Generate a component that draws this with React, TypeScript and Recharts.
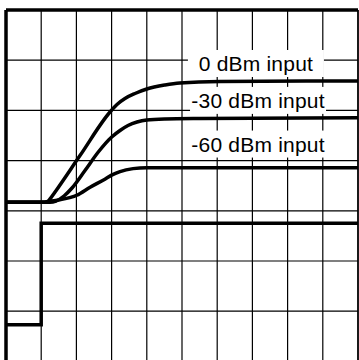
import React from "react";
import {
  LineChart,
  Line,
  XAxis,
  YAxis,
  CartesianGrid,
  ReferenceLine,
  ReferenceDot,
} from "recharts";

// screen divisions: x 0..10 left to right, y 0..7 bottom to top
const xTicks = [0, 1, 2, 3, 4, 5, 6, 7, 8, 9, 10];
const yTicks = [0, 1, 2, 3, 4, 5, 6, 7];

const stepX = [0, 1, 1, 10];
const stepY = [0.73, 0.73, 2.75, 2.75];

const zeroX = [0, 1.08, 1.165, 1.25, 1.364, 2.102, 2.955, 3.153, 3.38, 3.665, 4.0, 4.52, 4.94, 6.08, 10];
const zeroY = [3.17, 3.17, 3.18, 3.235, 3.345, 4.1, 4.968, 5.118, 5.237, 5.337, 5.426, 5.506, 5.546, 5.576, 5.586];

const minus30X = [0, 1.25, 1.42, 1.648, 1.875, 2.244, 2.622, 3.003, 3.239, 3.466, 3.722, 3.997, 4.517, 5.511, 10];
const minus30Y = [3.17, 3.17, 3.195, 3.295, 3.454, 3.803, 4.171, 4.47, 4.6, 4.699, 4.769, 4.809, 4.829, 4.839, 4.855];

const minus60X = [0, 1.08, 1.25, 1.53, 2.01, 2.39, 2.81, 3.0, 3.24, 3.61, 4.0, 10];
const minus60Y = [3.17, 3.17, 3.19, 3.22, 3.31, 3.47, 3.63, 3.71, 3.78, 3.84, 3.86, 3.86];

const labelText = ["0 dBm input", "-30 dBm input", "-60 dBm input"];
const labelX = [7.1, 7.16, 7.16];
const labelY = [5.785, 5.05, 4.18];

const toPoints = (xs: number[], ys: number[]) => xs.map((x, i) => ({ x, y: ys[i] }));

const LabelBox = (text: string) => (props: any) => {
  const { cx, cy } = props;
  return (
    <g>
      <rect x={cx - 68} y={cy - 21} width={136} height={27} fill="#fff" />
      <text
        x={cx}
        y={cy}
        textAnchor="middle"
        fontFamily="'Liberation Sans', Arial, sans-serif"
        fontSize={21}
        letterSpacing={0.2}
        fill="#000"
      >
        {text}
      </text>
    </g>
  );
};

export default function App() {
  return (
    <div
      style={{
        position: "absolute",
        left: 0,
        top: 0,
        width: 359,
        height: 360,
        overflow: "hidden",
        background: "#fff",
      }}
    >
      <LineChart
        width={359}
        height={371}
        margin={{ top: 10, right: 1, left: 6, bottom: 9.6 }}
      >
        <XAxis type="number" dataKey="x" domain={[0, 10]} ticks={xTicks} hide />
        <YAxis type="number" dataKey="y" domain={[0, 7]} ticks={yTicks} hide />
        <CartesianGrid stroke="#000" strokeWidth={1.2} />
        <ReferenceLine y={7} stroke="#000" strokeWidth={3.5} />
        <ReferenceLine x={0} stroke="#000" strokeWidth={3.5} />
        <ReferenceLine x={10} stroke="#000" strokeWidth={1.5} />

        <Line
          data={toPoints(stepX, stepY)}
          dataKey="y"
          type="linear"
          stroke="#000"
          strokeWidth={3.5}
          dot={false}
          isAnimationActive={false}
        />
        <Line
          data={toPoints(zeroX, zeroY)}
          dataKey="y"
          type="monotone"
          stroke="#000"
          strokeWidth={3.5}
          dot={false}
          isAnimationActive={false}
        />
        <Line
          data={toPoints(minus30X, minus30Y)}
          dataKey="y"
          type="monotone"
          stroke="#000"
          strokeWidth={3.5}
          dot={false}
          isAnimationActive={false}
        />
        <Line
          data={toPoints(minus60X, minus60Y)}
          dataKey="y"
          type="monotone"
          stroke="#000"
          strokeWidth={3.5}
          dot={false}
          isAnimationActive={false}
        />

        {labelText.map((t, i) => (
          <ReferenceDot
            key={t}
            x={labelX[i]}
            y={labelY[i]}
            r={0}
            shape={LabelBox(t)}
          />
        ))}
      </LineChart>
    </div>
  );
}
